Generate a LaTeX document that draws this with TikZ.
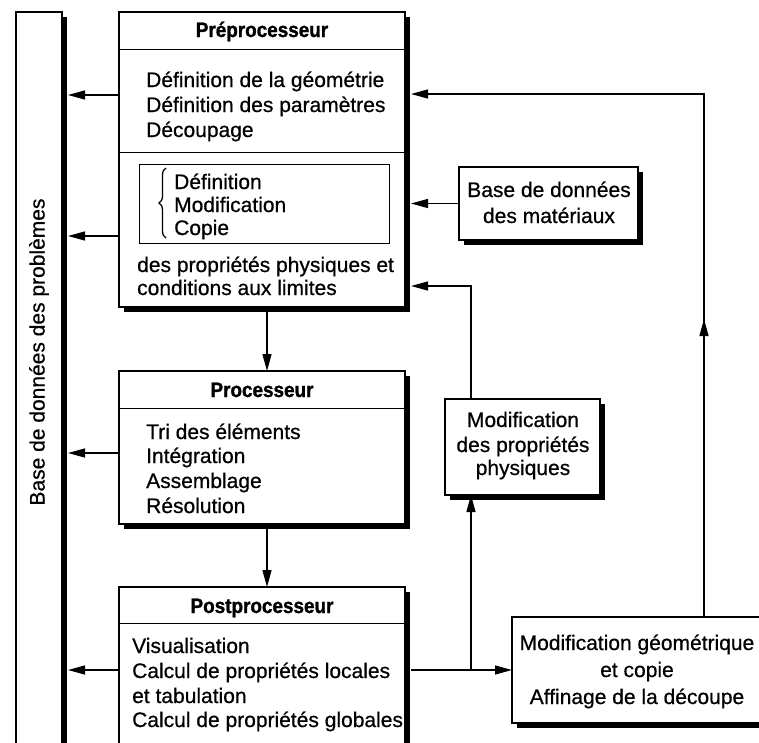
\documentclass[tikz,border=0pt]{standalone}
\usepackage{fontspec}
\setmainfont{Liberation Sans}[FakeBold=0.6]
\newfontfamily\titlefont{Liberation Sans}[FakeStretch=0.9,FakeBold=1.2]
\usetikzlibrary{arrows.meta,shadows,decorations.pathreplacing,decorations.markings,calc}
\begin{document}
\begin{tikzpicture}[x=1pt,y=-1pt,
 box/.style={draw,line width=1.5pt,fill=white,inner sep=0pt,outer sep=0pt,anchor=north west,
   drop shadow={shadow xshift=5pt,shadow yshift=-5pt,fill=black,opacity=1}},
 txt/.style={font=\fontsize{21}{25}\selectfont,inner sep=0pt,anchor=base west},
 ctxt/.style={font=\fontsize{21}{25}\selectfont,inner sep=0pt,anchor=base},
 ttl/.style={font=\titlefont\bfseries\fontsize{21}{25}\selectfont,inner sep=0pt,anchor=base},
 conn/.style={line width=1.3pt},
 tipshape/.tip={Triangle[length=17pt,width=9pt]},
 arr/.style={conn,-tipshape},
 sepline/.style={line width=1pt}]
\useasboundingbox (0,0) rectangle (759,742);
\clip (0,0) rectangle (759,742);
\fill[white] (0,0) rectangle (759,742);

% database of problems
\node[box,minimum width=46pt,minimum height=780pt] (base) at (16,12) {};
\node[font=\fontsize{21}{25}\selectfont,inner sep=0pt,rotate=90] (basetxt) at (39,352) {Base de données des problèmes};
\coordinate (bsh) at ($(base.north east)+(6,0)$);

% preprocessor
\node[box,minimum width=286pt,minimum height=295pt] (pre) at (119,12) {};
\coordinate (psh) at ($(pre.north east)+(6,0)$);
\node[ttl] (pret) at (262,37) {Préprocesseur};
\draw[sepline] (pre.west |- 0,49) -- (pre.east |- 0,49);
\draw[sepline] (pre.west |- 0,152) -- (pre.east |- 0,152);
\node[txt] (p1) at (146,87) {Définition de la géométrie};
\node[txt] (p2) at (146,112) {Définition des paramètres};
\node[txt] (p3) at (146,137) {Découpage};
\node[draw,line width=1pt,inner sep=0pt,outer sep=0pt,anchor=north west,minimum width=250pt,minimum height=79pt] (inner) at (139,164) {};
\draw[line width=1.3pt,decorate,decoration={brace,amplitude=7pt}] (166,238) -- (166,168);
\node[txt] (i1) at (174,189) {Définition};
\node[txt] (i2) at (174,212) {Modification};
\node[txt] (i3) at (174,235) {Copie};
\node[txt] (p4) at (137,272) {des propriétés physiques et};
\node[txt] (p5) at (137,295) {conditions aux limites};

% processor
\node[box,minimum width=286pt,minimum height=153pt] (proc) at (119,371) {};
\node[ttl] (proct) at (262,397) {Processeur};
\draw[sepline] (proc.west |- 0,408) -- (proc.east |- 0,408);
\node[txt] (r1) at (146,439) {Tri des éléments};
\node[txt] (r2) at (146,463) {Intégration};
\node[txt] (r3) at (146,488) {Assemblage};
\node[txt] (r4) at (146,513) {Résolution};

% postprocessor
\node[box,minimum width=286pt,minimum height=220pt] (post) at (119,587) {};
\coordinate (qsh) at ($(post.north east)+(6,0)$);
\node[ttl] (postt) at (262,613) {Postprocesseur};
\draw[sepline] (post.west |- 0,623) -- (post.east |- 0,623);
\node[txt] (s1) at (132,653) {Visualisation};
\node[txt] (s2) at (132,678) {Calcul de propriétés locales};
\node[txt] (s3) at (132,703) {et tabulation};
\node[txt] (s4) at (132,727) {Calcul de propriétés globales};

% materials database
\node[box,minimum width=179pt,minimum height=73pt] (mat) at (459,167) {};
\node[ctxt] (m1) at (549,197) {Base de données};
\node[ctxt] (m2) at (549,223) {des matériaux};

% modification of physical properties
\node[box,minimum width=155pt,minimum height=96pt] (mod) at (445,399) {};
\node[ctxt] (d1) at (523,427) {Modification};
\node[ctxt] (d2) at (523,452) {des propriétés};
\node[ctxt] (d3) at (523,475) {physiques};

% geometric modification
\node[box,minimum width=280pt,minimum height=106pt] (geom) at (512,617) {};
\node[ctxt] (g1) at (637,650) {Modification géométrique};
\node[ctxt] (g2) at (637,677) {et copie};
\node[ctxt] (g3) at (637,704) {Affinage de la découpe};

% connectors to the problem database
\draw[arr] (pre.west |- 0,95) -- (bsh |- 0,95);
\draw[arr] (pre.west |- 0,236) -- (bsh |- 0,236);
\draw[arr] (proc.west |- 0,453) -- (bsh |- 0,453);
\draw[arr] (post.west |- 0,670) -- (bsh |- 0,670);

% vertical flow
\coordinate (vx) at (267,0);
\draw[arr] (pre.south -| vx) -- (proc.north -| vx);
\draw[arr] (proc.south -| vx) -- (post.north -| vx);

% feedback loops
\coordinate (c1) at (704,94);
\draw[arr,postaction={decorate},
  decoration={markings,mark=at position 298pt with {\arrow{tipshape}}}]
  (geom.north -| c1) -- (c1) -- (psh |- c1);
\draw[arr] (mat.west) -- (psh |- mat.west);
\coordinate (c2) at (471,286);
\draw[arr] (mod.north -| c2) -- (c2) -- (psh |- c2);
\coordinate (j) at (471,670);
\draw[arr] (qsh |- j) -- (geom.west |- j);
\draw[arr] (j) -- (mod.south -| j);
\end{tikzpicture}
\end{document}
